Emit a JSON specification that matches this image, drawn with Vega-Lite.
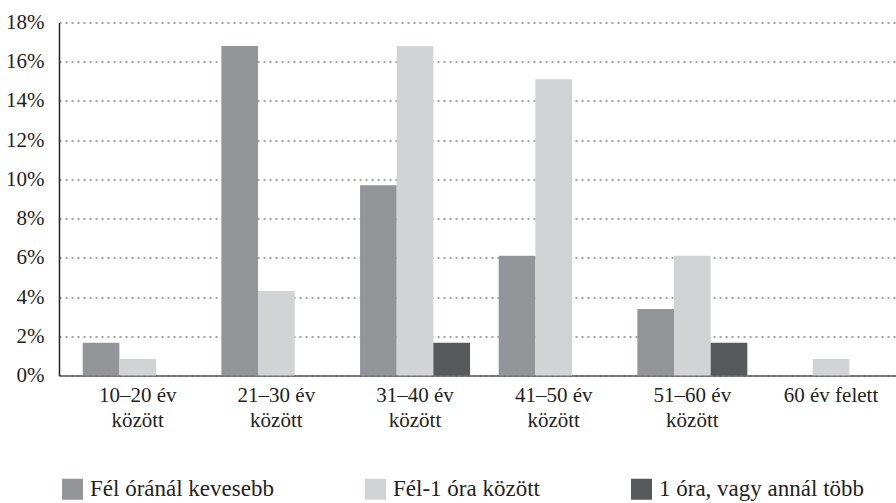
{
  "$schema": "https://vega.github.io/schema/vega-lite/v6.json",
  "width": 837,
  "height": 353,
  "autosize": {"type": "none"},
  "padding": {"left": 59, "top": 22.5, "right": 0, "bottom": 127.5},
  "background": "white",
  "config": {"view": {"stroke": null}, "font": "'Times New Roman', 'Liberation Serif', serif"},
  "data": {
    "values": [
      {"age": "10–20 év között", "series": "Fél óránál kevesebb", "value": 1.67},
      {"age": "10–20 év között", "series": "Fél-1 óra között", "value": 0.84},
      {"age": "10–20 év között", "series": "1 óra, vagy annál több", "value": 0},
      {"age": "21–30 év között", "series": "Fél óránál kevesebb", "value": 16.8},
      {"age": "21–30 év között", "series": "Fél-1 óra között", "value": 4.31},
      {"age": "21–30 év között", "series": "1 óra, vagy annál több", "value": 0},
      {"age": "31–40 év között", "series": "Fél óránál kevesebb", "value": 9.7},
      {"age": "31–40 év között", "series": "Fél-1 óra között", "value": 16.8},
      {"age": "31–40 év között", "series": "1 óra, vagy annál több", "value": 1.67},
      {"age": "41–50 év között", "series": "Fél óránál kevesebb", "value": 6.1},
      {"age": "41–50 év között", "series": "Fél-1 óra között", "value": 15.1},
      {"age": "41–50 év között", "series": "1 óra, vagy annál több", "value": 0},
      {"age": "51–60 év között", "series": "Fél óránál kevesebb", "value": 3.39},
      {"age": "51–60 év között", "series": "Fél-1 óra között", "value": 6.1},
      {"age": "51–60 év között", "series": "1 óra, vagy annál több", "value": 1.67},
      {"age": "60 év felett", "series": "Fél óránál kevesebb", "value": 0},
      {"age": "60 év felett", "series": "Fél-1 óra között", "value": 0.84},
      {"age": "60 év felett", "series": "1 óra, vagy annál több", "value": 0}
    ]
  },
  "mark": {"type": "bar"},
  "encoding": {
    "x": {
      "field": "age",
      "type": "nominal",
      "sort": ["10–20 év között", "21–30 év között", "31–40 év között", "41–50 év között", "51–60 év között", "60 év felett"],
      "scale": {"paddingInner": 0.207, "paddingOuter": 0.1217, "align": 0.703},
      "axis": {
        "title": null,
        "labelAngle": 0,
        "labelFontSize": 21,
        "labelFont": "'Times New Roman', 'Liberation Serif', serif",
        "labelColor": "#231f20",
        "labelExpr": "indexof(datum.label, ' között') > 0 ? [replace(datum.label, ' között', ''), 'között'] : datum.label",
        "labelLineHeight": 25,
        "labelPadding": 9,
        "labelBaseline": "top",
        "ticks": false,
        "domainColor": "#555555",
        "domainWidth": 1.5
      }
    },
    "xOffset": {
      "field": "series",
      "type": "nominal",
      "sort": ["Fél óránál kevesebb", "Fél-1 óra között", "1 óra, vagy annál több"],
      "scale": {"paddingInner": 0, "paddingOuter": 0}
    },
    "y": {
      "field": "value",
      "type": "quantitative",
      "scale": {"domain": [0, 18], "nice": false},
      "axis": {
        "title": null,
        "values": [0, 2, 4, 6, 8, 10, 12, 14, 16, 18],
        "labelExpr": "datum.value + '%'",
        "labelFontSize": 21,
        "labelFont": "'Times New Roman', 'Liberation Serif', serif",
        "labelColor": "#231f20",
        "labelPadding": 15,
        "ticks": false,
        "grid": true,
        "gridDash": [2, 4],
        "gridColor": "#444444",
        "gridWidth": 1.2,
        "domainColor": "#222222",
        "domainWidth": 1.5
      }
    },
    "color": {
      "field": "series",
      "type": "nominal",
      "sort": ["Fél óránál kevesebb", "Fél-1 óra között", "1 óra, vagy annál több"],
      "scale": {
        "domain": ["Fél óránál kevesebb", "Fél-1 óra között", "1 óra, vagy annál több"],
        "range": ["#939598", "#d1d3d4", "#58595b"]
      },
      "legend": {
        "title": null,
        "orient": "none",
        "legendX": 2,
        "legendY": 455,
        "direction": "horizontal",
        "columns": 3,
        "columnPadding": 90,
        "symbolType": "square",
        "symbolSize": 441,
        "symbolStrokeWidth": 0,
        "symbolOpacity": 1,
        "labelFontSize": 23,
        "labelFont": "'Times New Roman', 'Liberation Serif', serif",
        "labelColor": "#231f20",
        "labelOffset": 6,
        "labelLimit": 400,
        "padding": 0
      }
    }
  }
}
